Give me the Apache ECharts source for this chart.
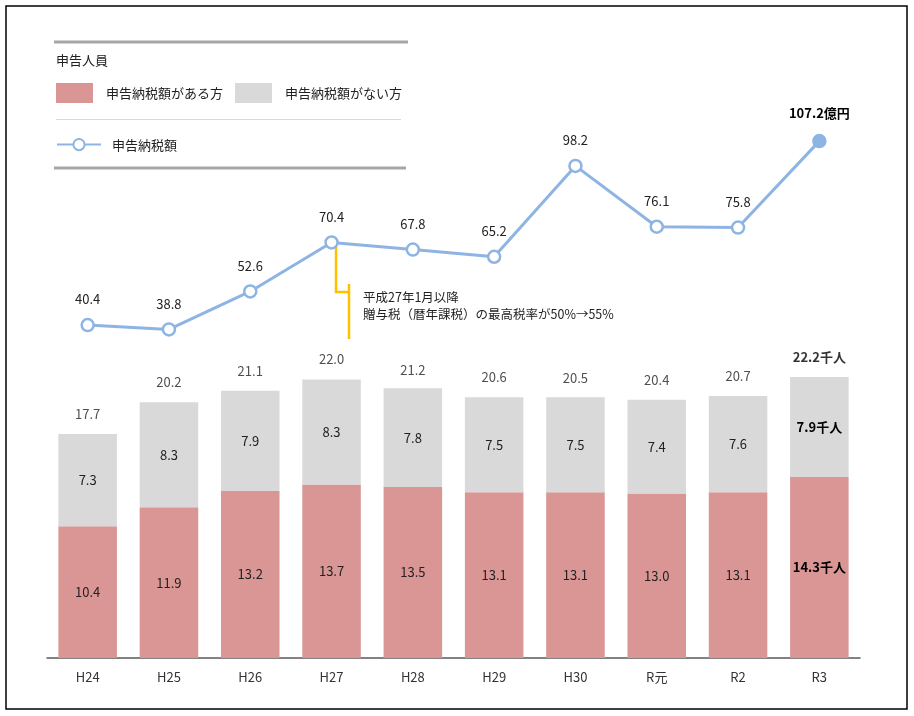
<!DOCTYPE html>
<html><head><meta charset="utf-8">
<script src="https://cdn.jsdelivr.net/npm/echarts@6/dist/echarts.min.js"></script>
<style>html,body{margin:0;padding:0;background:#fff}#c{width:914px;height:716px}</style>
</head><body><div id="c"></div>
<script>
const categories = ['H24','H25','H26','H27','H28','H29','H30','R元','R2','R3'];
const taxAmount = [40.4, 38.8, 52.6, 70.4, 67.8, 65.2, 98.2, 76.1, 75.8, 107.2];
const withTax = [10.4, 11.9, 13.2, 13.7, 13.5, 13.1, 13.1, 13.0, 13.1, 14.3];
const withoutTax = [7.3, 8.3, 7.9, 8.3, 7.8, 7.5, 7.5, 7.4, 7.6, 7.9];
const totals = [17.7, 20.2, 21.1, 22.0, 21.2, 20.6, 20.5, 20.4, 20.7, 22.2];

const FONT = '"Noto Sans CJK JP", "Noto Sans", sans-serif';
const RED = '#d99694', GRAY = '#d9d9d9', BLUE = '#8eb4e3';
const last = categories.length - 1;
const fmt1 = p => Number(p.value).toFixed(1);
const lbl = {fontFamily: FONT, fontSize: 13, color: '#222', formatter: fmt1};

function barData(arr, suffix) {
  return arr.map((v, i) => i === last
    ? {value: v, label: {formatter: v.toFixed(1) + suffix, fontWeight: 'bold', color: '#000'}}
    : {value: v});
}

const chart = echarts.init(document.getElementById('c'));
chart.setOption({
  animation: false,
  textStyle: {fontFamily: FONT},
  grid: [
    {left: 47, right: 54, top: 341.5, bottom: 58},
    {left: 47, right: 54, top: 133.4, bottom: 279.7}
  ],
  xAxis: [
    {gridIndex: 0, type: 'category', data: categories,
     axisLine: {lineStyle: {color: '#595959', width: 1.5}},
     axisTick: {show: false},
     axisLabel: {fontFamily: FONT, fontSize: 13, color: '#333', margin: 13}},
    {gridIndex: 1, type: 'category', data: categories, show: false}
  ],
  yAxis: [
    {gridIndex: 0, type: 'value', min: 0, max: 25, show: false, splitLine: {show: false}},
    {gridIndex: 1, type: 'value', min: 0, max: 110, show: false, splitLine: {show: false}}
  ],
  legend: [
    {left: 51, top: 78, itemWidth: 37, itemHeight: 20, itemGap: 12, icon: 'rect',
     data: ['申告納税額がある方', '申告納税額がない方'],
     textStyle: {fontFamily: FONT, fontSize: 13, color: '#222', padding: [0, 0, 0, 8]}},
    {left: 51, top: 133, itemWidth: 44, itemHeight: 14, data: ['申告納税額'],
     textStyle: {fontFamily: FONT, fontSize: 13, color: '#222', padding: [0, 0, 0, 6]}}
  ],
  series: [
    {name: '申告納税額がある方', type: 'bar', stack: 'p', xAxisIndex: 0, yAxisIndex: 0,
     barCategoryGap: '28%', itemStyle: {color: RED},
     label: Object.assign({show: true, position: 'inside'}, lbl),
     data: barData(withTax, '千人')},
    {name: '申告納税額がない方', type: 'bar', stack: 'p', xAxisIndex: 0, yAxisIndex: 0,
     barCategoryGap: '28%', itemStyle: {color: GRAY},
     label: Object.assign({show: true, position: 'inside'}, lbl),
     data: barData(withoutTax, '千人')},
    {name: 'total', type: 'scatter', xAxisIndex: 0, yAxisIndex: 0, symbolSize: 1,
     itemStyle: {color: 'rgba(0,0,0,0)'}, silent: true,
     label: Object.assign({show: true, position: 'top', distance: 13}, lbl),
     data: barData(totals, '千人')},
    {name: '申告納税額', type: 'line', xAxisIndex: 1, yAxisIndex: 1,
     symbol: 'circle', symbolSize: 12,
     lineStyle: {color: BLUE, width: 3},
     itemStyle: {color: '#fff', borderColor: BLUE, borderWidth: 2.5},
     label: Object.assign({show: true, position: 'top', distance: 12}, lbl),
     data: taxAmount.map((v, i) => i === last
       ? {value: v, itemStyle: {color: BLUE},
          label: {formatter: v.toFixed(1) + '億円', fontWeight: 'bold', color: '#000', distance: 14}}
       : {value: v})}
  ],
  graphic: [
    {type: 'rect', shape: {x: 6, y: 6, width: 901, height: 703},
     style: {fill: 'none', stroke: '#000', lineWidth: 1.5}, silent: true},
    {type: 'line', shape: {x1: 54, y1: 42, x2: 408, y2: 42}, style: {stroke: '#a6a6a6', lineWidth: 3}},
    {type: 'line', shape: {x1: 56, y1: 119.5, x2: 401, y2: 119.5}, style: {stroke: '#d9d9d9', lineWidth: 1}},
    {type: 'line', shape: {x1: 54, y1: 168, x2: 406, y2: 168}, style: {stroke: '#a6a6a6', lineWidth: 3}},
    {type: 'text', left: 56, top: 54, style: {text: '申告人員', font: '13px ' + FONT, fill: '#222'}},
    {type: 'polyline', shape: {points: [[336, 247], [336, 292], [349, 292]]},
     style: {stroke: '#ffc000', lineWidth: 2.5, fill: 'none'}},
    {type: 'line', shape: {x1: 349, y1: 284, x2: 349, y2: 339}, style: {stroke: '#ffc000', lineWidth: 2.5}},
    {type: 'text', left: 363, top: 291, style: {text: '平成27年1月以降', font: '12.5px ' + FONT, fill: '#222'}},
    {type: 'text', left: 363, top: 308, style: {text: '贈与税（暦年課税）の最高税率が50%→55%', font: '12.5px ' + FONT, fill: '#222'}}
  ]
});
</script></body></html>
